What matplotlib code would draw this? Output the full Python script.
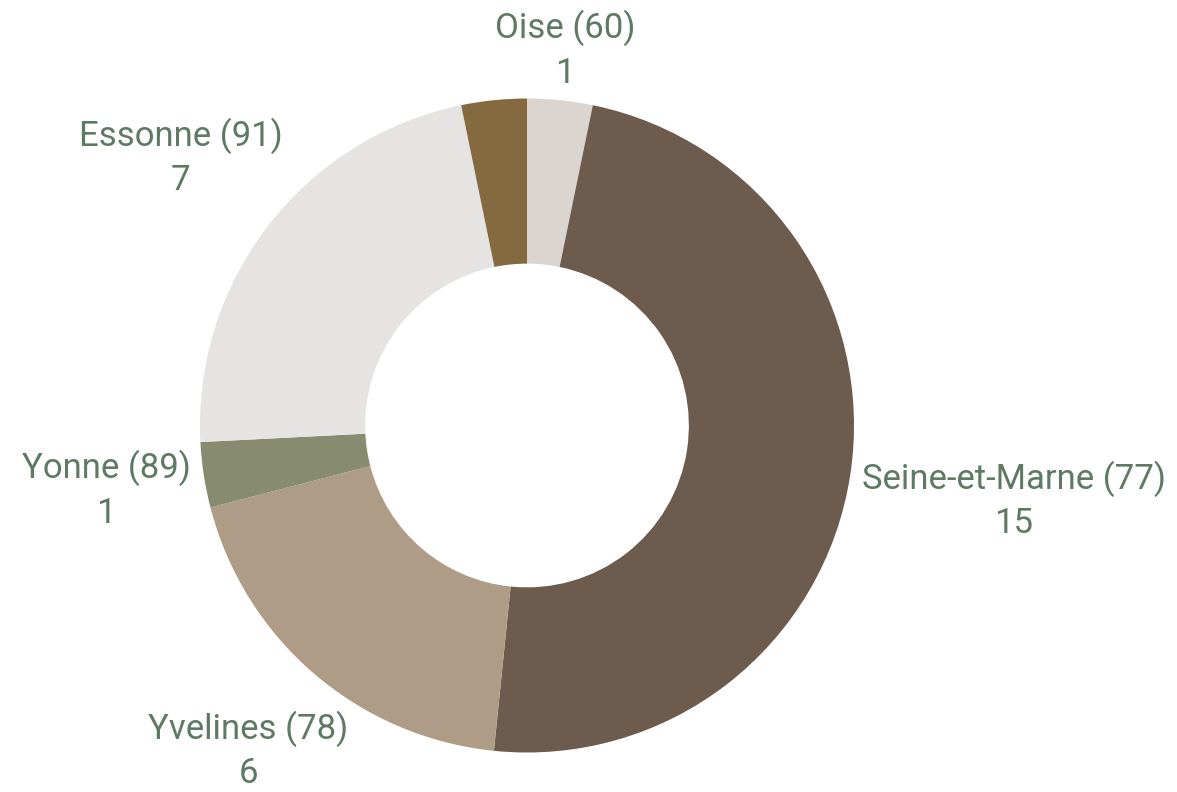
import numpy as np
import matplotlib
matplotlib.use("Agg")
import matplotlib.pyplot as plt

# departements, clockwise from 12 o'clock
labels = ["Oise (60)", "Seine-et-Marne (77)", "Yvelines (78)", "Yonne (89)", "Essonne (91)", None]
values = [1, 15, 6, 1, 7, 1]
colors = ["#dcd5cf", "#6d5c4d", "#af9c87", "#878b6f", "#e5e4e2", "#866a3f"]

text_color = "#5e7a64"
W, H = 1177, 792
cx, cy = 527, H - 425.5
radius = 327
offset = 10

plt.rcParams["font.family"] = ["Roboto", "DejaVu Sans"]

fig = plt.figure(figsize=(W / 100, H / 100), dpi=100)
ax = fig.add_axes([0, 0, 1, 1])

wedges, _ = ax.pie(values, colors=colors, startangle=90, counterclock=False,
                   center=(cx, cy), radius=radius,
                   wedgeprops=dict(width=radius * 0.505, linewidth=0))
ax.set_xlim(0, W)
ax.set_ylim(0, H)
ax.set_aspect("equal")
ax.axis("off")

# labels sit on the mid-angle ray, pushed out until the box clears the ring
texts = []
for w, lab, val in zip(wedges, labels, values):
    if lab is None:
        continue
    ang = np.deg2rad((w.theta1 + w.theta2) / 2)
    vx, vy = np.cos(ang), np.sin(ang)
    t = ax.text(cx + radius * vx, cy + radius * vy, f"{lab}\n{val}",
                ha="center", va="center", multialignment="center",
                fontsize=25, color=text_color, linespacing=1.4)
    texts.append((t, vx, vy))

fig.canvas.draw()
r = fig.canvas.get_renderer()
for t, vx, vy in texts:
    bb = t.get_window_extent(r)
    push = bb.width / 2 * abs(vx) + (bb.height / 2 - 6) * abs(vy) + offset
    x, y = t.get_position()
    t.set_position((x + push * vx, y + push * vy))

fig.savefig("out.png", dpi=100)
